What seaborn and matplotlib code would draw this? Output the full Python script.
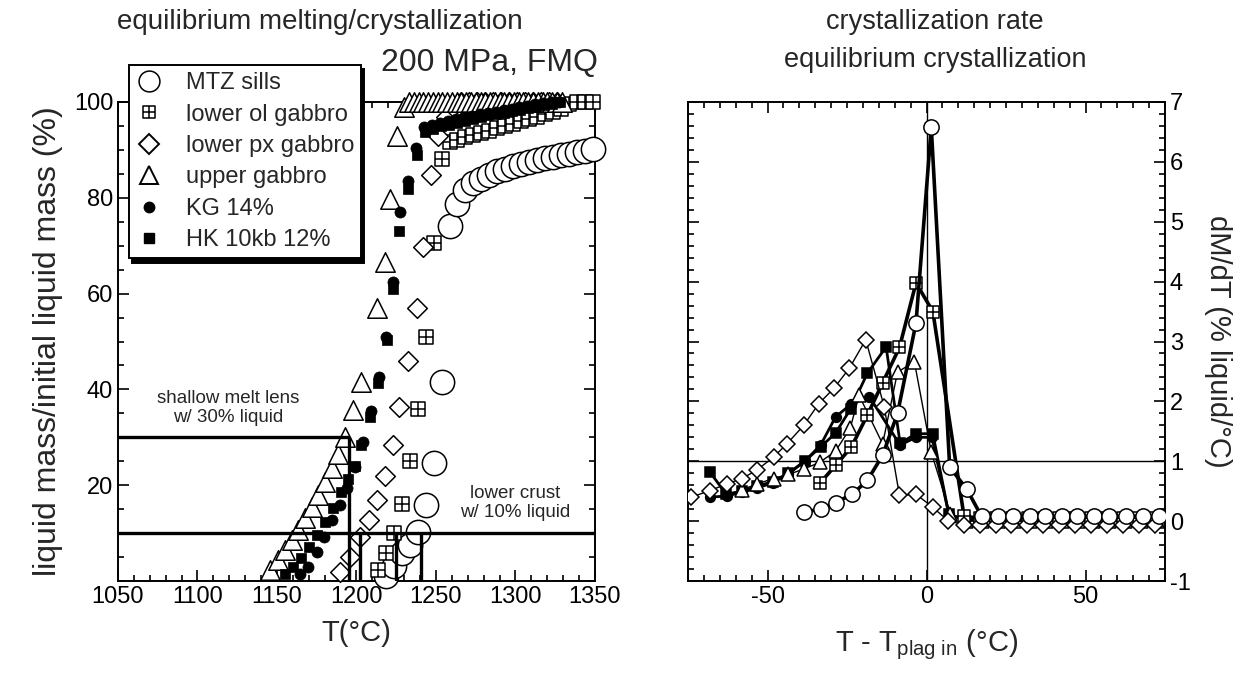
import matplotlib
matplotlib.use("Agg")
import matplotlib.pyplot as plt
import seaborn as sns
from matplotlib.path import Path
from matplotlib.ticker import MultipleLocator, FixedLocator
from matplotlib.lines import Line2D

# ---------------- left panel: liquid mass (%) vs T (°C) ----------------
mtz_T = [1218.5, 1223.5, 1228.5, 1233.5, 1238.5, 1243.5, 1248.5, 1253.5, 1258.5, 1263.5,
         1268.5, 1273.5, 1278.5, 1283.5, 1288.5, 1293.5, 1298.5, 1303.5, 1308.5, 1313.5,
         1318.5, 1323.5, 1328.5, 1333.5, 1338.5, 1343.5, 1348.5]
mtz_L = [1.0, 3.2, 5.8, 7.6, 10.3, 15.8, 24.6, 41.5, 74.2, 78.8,
         81.6, 83.0, 84.0, 84.8, 85.5, 86.1, 86.6, 87.1, 87.5, 87.9,
         88.3, 88.6, 88.9, 89.2, 89.5, 89.8, 90.1]

ol_T = [1213.5, 1218.5, 1223.5, 1228.5, 1233.5, 1238.5, 1243.5, 1248.5, 1253.5, 1258.5,
        1263.5, 1268.5, 1273.5, 1278.5, 1283.5, 1288.5, 1293.5, 1298.5, 1303.5, 1308.5,
        1313.5, 1318.5, 1323.5, 1328.5, 1333.5, 1338.5, 1343.5, 1348.5]
ol_L = [2.3, 5.8, 10.0, 16.0, 25.0, 36.0, 51.0, 70.5, 88.0, 91.6,
        92.1, 92.6, 93.1, 93.6, 94.0, 94.5, 95.0, 95.5, 96.0, 96.5,
        96.9, 97.4, 97.9, 98.5, 99.6, 100.0, 100.0, 100.0]

px_T = [1189.6, 1196.0, 1202.0, 1207.8, 1212.7, 1218.0, 1223.0, 1227.0, 1232.5, 1238.0,
        1242.0, 1247.0, 1251.0, 1256.0, 1261.0, 1266.0, 1271.0, 1276.0, 1281.0, 1286.0,
        1291.0, 1296.0, 1301.0, 1306.0, 1311.0, 1316.0, 1321.0, 1326.0]
px_L = [1.9, 5.0, 9.2, 12.7, 16.9, 22.0, 28.4, 36.4, 46.0, 56.9,
        69.8, 84.8, 93.0, 96.8, 99.0, 100.0, 100.0, 100.0, 100.0, 100.0,
        100.0, 100.0, 100.0, 100.0, 100.0, 100.0, 100.0, 100.0]

up_T = [1145.5, 1150.8, 1155.0, 1159.2, 1163.4, 1167.6, 1171.8, 1176.0, 1180.2, 1184.4,
        1188.6, 1192.8, 1198.0, 1203.0, 1212.7, 1218.0, 1221.0, 1225.5, 1230.0, 1233.0,
        1236.0, 1239.0, 1242.0, 1245.0, 1248.0, 1251.0, 1254.0, 1257.0, 1260.0, 1263.0,
        1266.0, 1269.0, 1272.0, 1275.0, 1278.0, 1281.0, 1284.0, 1287.0, 1290.0, 1293.0,
        1296.0, 1299.0, 1302.0, 1305.0, 1308.0, 1311.0, 1314.0, 1317.0, 1320.0, 1323.0,
        1326.0, 1329.0]
up_L = [2.3, 4.4, 6.5, 8.6, 10.6, 13.1, 15.5, 18.0, 20.7, 23.5,
        26.6, 30.1, 35.7, 41.6, 57.0, 66.7, 79.8, 93.0, 99.0, 100.0,
        100.0, 100.0, 100.0, 100.0, 100.0, 100.0, 100.0, 100.0, 100.0, 100.0,
        100.0, 100.0, 100.0, 100.0, 100.0, 100.0, 100.0, 100.0, 100.0, 100.0,
        100.0, 100.0, 100.0, 100.0, 100.0, 100.0, 100.0, 100.0, 100.0, 100.0,
        100.0, 100.0]

kg_T = [1164.5, 1169.7, 1175.0, 1179.5, 1184.4, 1189.6, 1193.8, 1199.0, 1204.0, 1209.0,
        1214.0, 1218.5, 1223.0, 1227.5, 1232.5, 1237.5, 1242.5, 1247.5, 1252.5, 1257.5,
        1262.5, 1267.5, 1272.5, 1277.5, 1282.5, 1287.5, 1292.5, 1297.5, 1302.5, 1307.5,
        1312.5, 1317.5, 1322.5, 1327.5]
kg_L = [1.5, 3.0, 6.1, 9.2, 12.7, 15.9, 19.4, 23.8, 29.0, 35.5,
        42.5, 51.0, 62.5, 77.0, 83.5, 90.5, 94.8, 95.3, 95.7, 96.1,
        96.5, 96.8, 97.1, 97.4, 97.7, 98.0, 98.3, 98.6, 98.9, 99.2,
        99.5, 99.8, 100.0, 100.0]

hk_T = [1155.0, 1160.0, 1165.0, 1170.0, 1175.0, 1180.0, 1185.0, 1190.0, 1194.5, 1199.0,
        1203.0, 1208.5, 1213.5, 1219.0, 1223.0, 1227.0, 1232.5, 1238.0, 1243.0, 1248.0,
        1253.0, 1258.0, 1263.0, 1268.0, 1273.0, 1278.0, 1283.0, 1288.0, 1293.0, 1298.0,
        1303.0, 1308.0, 1313.0, 1318.0, 1323.0, 1328.0]
hk_L = [1.5, 3.0, 4.8, 7.0, 9.6, 12.3, 15.2, 18.5, 21.2, 24.0,
        28.4, 34.3, 41.3, 50.3, 61.0, 73.0, 81.8, 89.0, 93.8, 94.4,
        94.9, 95.3, 95.7, 96.1, 96.5, 96.9, 97.2, 97.5, 97.8, 98.1,
        98.4, 98.7, 99.0, 99.3, 99.6, 100.0]

# reference levels (liquid %) and the temperatures where they are marked
lens_level = 30.0
lens_T = 1195.0
crust_level = 10.0
crust_T = [1202.5, 1225.0, 1240.5]

# ---------------- right panel: dM/dT vs T - T_plag in ----------------
mtz_dx = [-38.6, -33.3, -28.6, -23.3, -18.6, -13.8, -9.1, -3.3, 1.5, 7.3, 12.6,
          17.3, 22.5, 27.3, 32.6, 37.4, 42.6, 47.4, 52.7, 57.4, 62.7, 68.0, 73.2]
mtz_rate = [0.15, 0.20, 0.31, 0.45, 0.68, 1.10, 1.80, 3.31, 6.58, 0.90, 0.54,
            0.08, 0.08, 0.08, 0.08, 0.08, 0.08, 0.08, 0.08, 0.08, 0.08, 0.08, 0.08]

ol_dx = [-33.6, -28.6, -23.6, -18.6, -13.8, -8.5, -3.3, 2.0, 11.8,
         16.8, 21.8, 26.8, 31.8, 36.8, 41.8, 46.8, 51.8, 56.8, 61.8, 66.8, 71.8]
ol_rate = [0.63, 0.93, 1.24, 1.77, 2.31, 2.90, 3.98, 3.50, 0.08,
           0.05, 0.05, 0.05, 0.05, 0.05, 0.05, 0.05, 0.05, 0.05, 0.05, 0.05, 0.05]

px_dx = [-74.0, -68.1, -62.8, -58.1, -53.4, -48.1, -43.9, -38.6, -33.9, -29.1,
         -24.3, -19.1, -13.3, -8.5, -3.3, 2.0, 6.7, 11.7, 16.7, 21.7,
         26.7, 31.7, 36.7, 41.7, 46.7, 51.7, 56.7, 61.7, 66.7, 71.7]
px_rate = [0.40, 0.51, 0.62, 0.71, 0.85, 1.07, 1.29, 1.60, 1.96, 2.22,
           2.55, 3.03, 1.91, 0.43, 0.45, 0.23, 0.01, -0.06, -0.06, -0.06,
           -0.06, -0.06, -0.06, -0.06, -0.06, -0.06, -0.06, -0.06, -0.06, -0.06]

up_dx = [-58.1, -53.4, -48.1, -43.4, -38.6, -33.6, -28.6, -24.0, -21.2, -13.8,
         -9.1, -3.8, 1.5, 7.5, 12.5, 17.5, 22.5, 27.5, 32.5, 37.5,
         42.5, 47.5, 52.5, 57.5, 62.5, 67.5, 72.5]
up_rate = [0.52, 0.62, 0.71, 0.78, 0.87, 0.98, 1.17, 1.55, 2.10, 1.29,
           2.49, 2.66, 1.15, 0.12, 0.0, 0.0, 0.0, 0.0, 0.0, 0.0,
           0.0, 0.0, 0.0, 0.0, 0.0, 0.0, 0.0]

kg_dx = [-68.1, -62.8, -58.1, -53.4, -48.4, -43.4, -38.1, -33.3, -28.6, -23.8,
         -18.0, -8.3, -3.3, 1.7, 7.0, 12.0, 17.0, 22.0, 27.0, 32.0,
         37.0, 42.0, 47.0, 52.0, 57.0, 62.0, 67.0, 72.0]
kg_rate = [0.40, 0.42, 0.48, 0.55, 0.64, 0.79, 1.01, 1.27, 1.74, 1.95,
           2.08, 1.27, 1.40, 1.40, 0.12, 0.02, 0.02, 0.02, 0.02, 0.02,
           0.02, 0.02, 0.02, 0.02, 0.02, 0.02, 0.02, 0.02]

hk_dx = [-68.1, -63.0, -58.1, -53.4, -48.4, -43.4, -38.1, -33.3, -28.6, -23.8,
         -18.6, -12.7, -8.3, -3.3, 2.0, 7.0, 12.0, 17.0, 22.0, 27.0,
         32.0, 37.0, 42.0, 47.0, 52.0, 57.0, 62.0, 67.0, 72.0]
hk_rate = [0.82, 0.45, 0.50, 0.58, 0.66, 0.80, 1.01, 1.24, 1.47, 1.88,
           2.47, 2.91, 1.30, 1.46, 1.46, 0.12, 0.02, 0.02, 0.02, 0.02,
           0.02, 0.02, 0.02, 0.02, 0.02, 0.02, 0.02, 0.02, 0.02]

labels = ["MTZ sills", "lower ol gabbro", "lower px gabbro", "upper gabbro",
          "KG 14%", "HK 10kb 12%"]

# ---------------- style ----------------
sns.set_theme(style="ticks")
plt.rcParams["font.family"] = ["Liberation Sans", "DejaVu Sans"]
plt.rcParams["mathtext.fontset"] = "custom"
plt.rcParams["mathtext.rm"] = "Liberation Sans"
plt.rcParams["mathtext.it"] = "Liberation Sans:italic"
plt.rcParams["axes.linewidth"] = 1.4
plt.rcParams["axes.edgecolor"] = "black"
plt.rcParams["axes.unicode_minus"] = False

# square-with-cross marker
boxcross = Path([(-1, -1), (1, -1), (1, 1), (-1, 1), (-1, -1),
                 (-1, 0), (1, 0), (0, -1), (0, 1)],
                [Path.MOVETO, Path.LINETO, Path.LINETO, Path.LINETO, Path.CLOSEPOLY,
                 Path.MOVETO, Path.LINETO, Path.MOVETO, Path.LINETO])

W, H = 1255, 673
fig = plt.figure(figsize=(W / 100, H / 100), dpi=100)
axL = fig.add_axes([118 / W, 1 - 581 / H, 477 / W, 479 / H])
axR = fig.add_axes([688 / W, 1 - 581 / H, 477 / W, 479 / H])

for ax in (axL, axR):
    ax.tick_params(which="both", direction="in", top=True, right=True,
                   colors="black", labelsize=17, width=1.2)
    ax.tick_params(which="major", length=8)
    ax.tick_params(which="minor", length=4)

# ---------------- left panel ----------------
ew = 1.1
sns.scatterplot(x=mtz_T, y=mtz_L, ax=axL, marker="o", s=17.5 ** 2, color="white",
                edgecolor="black", linewidth=ew, clip_on=False, zorder=3)
sns.scatterplot(x=ol_T, y=ol_L, ax=axL, marker=boxcross, s=10 ** 2, color="white",
                edgecolor="black", linewidth=ew, clip_on=False, zorder=4)
sns.scatterplot(x=px_T, y=px_L, ax=axL, marker="D", s=10 ** 2, color="white",
                edgecolor="black", linewidth=ew, clip_on=False, zorder=4)
sns.scatterplot(x=up_T, y=up_L, ax=axL, marker="^", s=14 ** 2, color="white",
                edgecolor="black", linewidth=ew, clip_on=False, zorder=5)
sns.scatterplot(x=kg_T, y=kg_L, ax=axL, marker="o", s=8 ** 2, color="black",
                edgecolor="black", linewidth=0.5, clip_on=False, zorder=6)
sns.scatterplot(x=hk_T, y=hk_L, ax=axL, marker="s", s=7.5 ** 2, color="black",
                edgecolor="black", linewidth=0.5, clip_on=False, zorder=6)

lw_ref = 2.4
axL.plot([1050, lens_T], [lens_level, lens_level], color="black", lw=lw_ref, zorder=7,
         solid_capstyle="butt")
axL.plot([lens_T, lens_T], [0, lens_level], color="black", lw=lw_ref, zorder=7,
         solid_capstyle="butt")
axL.plot([1050, 1350], [crust_level, crust_level], color="black", lw=lw_ref, zorder=7,
         solid_capstyle="butt")
for t in crust_T:
    axL.plot([t, t], [0, crust_level], color="black", lw=lw_ref, zorder=7,
             solid_capstyle="butt")

axL.text(1119, 36.2, "shallow melt lens\nw/ 30% liquid", ha="center", va="center",
         fontsize=13.5, linespacing=1.15)
axL.text(1300, 16.3, "lower crust\nw/ 10% liquid", ha="center", va="center",
         fontsize=13.5, linespacing=1.15)

axL.set_xlim(1050, 1350)
axL.set_ylim(0, 100)
axL.xaxis.set_major_locator(MultipleLocator(50))
axL.xaxis.set_minor_locator(MultipleLocator(10))
axL.yaxis.set_major_locator(FixedLocator([20, 40, 60, 80, 100]))
axL.yaxis.set_minor_locator(MultipleLocator(5))
axL.set_xlabel("T(°C)", fontsize=21, labelpad=8)
axL.set_ylabel("liquid mass/initial liquid mass (%)", fontsize=23, labelpad=8)

handles = [
    Line2D([], [], ls="none", marker="o", ms=15, mfc="white", mec="black", mew=ew),
    Line2D([], [], ls="none", marker=boxcross, ms=9, mfc="white", mec="black", mew=ew),
    Line2D([], [], ls="none", marker="D", ms=10, mfc="white", mec="black", mew=1.4),
    Line2D([], [], ls="none", marker="^", ms=13, mfc="white", mec="black", mew=1.4),
    Line2D([], [], ls="none", marker="o", ms=7.5, mfc="black", mec="black"),
    Line2D([], [], ls="none", marker="s", ms=7, mfc="black", mec="black"),
]
leg = axL.legend(handles, labels, loc="upper left", bbox_to_anchor=(129 / W, 1 - 65 / H),
                 bbox_transform=fig.transFigure, fontsize=17, frameon=True, fancybox=False,
                 edgecolor="black", framealpha=1, borderaxespad=0, borderpad=0.3,
                 labelspacing=0.4, handlelength=1.1, handletextpad=1.0,
                 shadow={"color": "black", "alpha": 1, "ox": 2, "oy": -3})
leg.get_frame().set_linewidth(1.4)
leg.set_zorder(10)

fig.text(320 / W, 1 - 22 / H, "equilibrium melting/crystallization", ha="center",
         va="center", fontsize=20)
fig.text(598 / W, 1 - 63 / H, "200 MPa, FMQ", ha="right", va="center", fontsize=23)

# ---------------- right panel ----------------
axR.axhline(1, color="black", lw=1.0, zorder=1)
axR.axvline(0, color="black", lw=1.0, zorder=1)

def rate_line(x, y, marker, ms, lw, face, z, mew=1.1):
    sns.lineplot(x=x, y=y, ax=axR, color="black", lw=lw, marker=marker, markersize=ms,
                 markerfacecolor=face, markeredgecolor="black", markeredgewidth=mew,
                 estimator=None, sort=False, legend=False, zorder=z)

rate_line(hk_dx, hk_rate, "s", 6.5, 2.0, "black", 3)
rate_line(kg_dx, kg_rate, "o", 7, 2.0, "black", 3)
rate_line(up_dx, up_rate, "^", 10.5, 1.0, "white", 4)
rate_line(ol_dx, ol_rate, boxcross, 9, 2.6, "white", 5)
rate_line(px_dx, px_rate, "D", 8.5, 1.0, "white", 6)
rate_line(mtz_dx, mtz_rate, "o", 11, 2.6, "white", 7)

axR.set_xlim(-75, 75)
axR.set_ylim(-1, 7)
axR.xaxis.set_major_locator(FixedLocator([-50, 0, 50]))
axR.xaxis.set_minor_locator(MultipleLocator(5))
axR.yaxis.set_major_locator(MultipleLocator(1))
axR.yaxis.set_minor_locator(MultipleLocator(0.2))
axR.tick_params(axis="y", which="both", labelleft=False, labelright=True)
axR.yaxis.set_label_position("right")
axR.set_xlabel("T - T$_{\\mathrm{plag\\ in}}$ (°C)", fontsize=21, labelpad=14)
axR.set_ylabel("dM/dT (% liquid/°C)", fontsize=21, rotation=270, labelpad=30)

fig.text(935 / W, 1 - 22 / H, "crystallization rate", ha="center", va="center", fontsize=19.5)
fig.text(935 / W, 1 - 60 / H, "equilibrium crystallization", ha="center", va="center",
         fontsize=19.5)

fig.savefig("out.png", dpi=100, facecolor="white")
